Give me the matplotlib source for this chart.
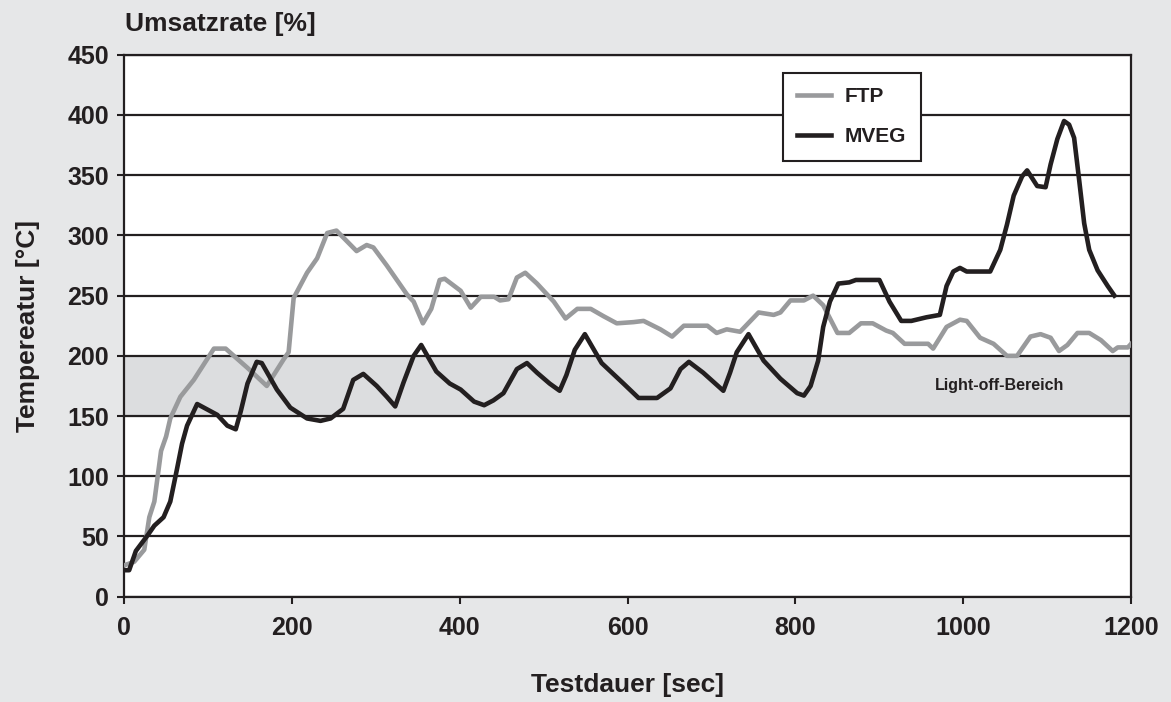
import matplotlib
matplotlib.use("Agg")
import matplotlib.pyplot as plt

plt.rcParams["font.family"] = ["Liberation Sans", "DejaVu Sans"]
plt.rcParams["font.weight"] = "bold"

# FTP cycle (grey)
ftp_t = [0, 12, 24, 30, 36, 40, 44, 50, 55, 67, 83, 107, 121, 147, 170, 190, 196,
         202, 218, 230, 242, 253, 277, 289, 297, 313, 337, 345, 356, 366, 376, 382,
         401, 413, 425, 441, 448, 458, 468, 478, 492, 512, 526, 540, 556, 571, 587,
         607, 619, 639, 653, 667, 695, 706, 718, 734, 756, 774, 782, 794, 810, 821,
         833, 850, 864, 878, 892, 908, 916, 930, 958, 964, 980, 996, 1004, 1020,
         1036, 1052, 1064, 1080, 1092, 1104, 1114, 1124, 1136, 1150, 1164, 1178,
         1184, 1196, 1200]
ftp_temp = [26, 29, 39, 66, 79, 100, 121, 133, 148, 166, 180, 206, 206, 190, 175, 197, 203,
            248, 269, 281, 302, 304, 287, 292, 290, 275, 251, 245, 227, 239, 263, 264,
            254, 240, 249, 249, 246, 247, 265, 269, 260, 245, 231, 239, 239, 233, 227,
            228, 229, 222, 216, 225, 225, 219, 222, 220, 236, 234, 236, 246, 246, 250,
            242, 219, 219, 227, 227, 221, 219, 210, 210, 206, 224, 230, 229, 215,
            210, 200, 200, 216, 218, 215, 204, 209, 219, 219, 213, 204,
            207, 207, 210]

# MVEG cycle (black)
mveg_t = [0, 6, 14, 28, 36, 47, 55, 63, 69, 75, 87, 111, 123, 133, 139, 147, 158, 164,
          182, 198, 218, 234, 246, 261, 273, 285, 301, 313, 323, 333, 345, 354, 372,
          388, 401, 417, 429, 440, 452, 468, 480, 492, 507, 519, 527, 537, 549, 569,
          595, 613, 635, 651, 663, 673, 690, 706, 714, 722, 730, 744, 762, 782, 802,
          810, 818, 827, 833, 841, 851, 864, 872, 884, 900, 912, 926, 938, 956, 972,
          980, 988, 996, 1004, 1032, 1044, 1052, 1060, 1070, 1076, 1088, 1098, 1104,
          1112, 1120, 1126, 1132, 1138, 1144, 1150, 1160, 1172, 1180]
mveg_temp = [22, 22, 38, 51, 59, 66, 79, 106, 127, 142, 160, 151, 142, 139, 154, 177, 195, 194,
             172, 157, 148, 146, 148, 156, 180, 185, 175, 166, 158, 178, 200, 209, 187,
             177, 172, 162, 159, 163, 169, 189, 194, 186, 177, 171, 184, 205, 218, 194,
             177, 165, 165, 173, 189, 195, 186, 176, 171, 186, 203, 218, 196, 181, 169,
             167, 175, 196, 224, 245, 260, 261, 263, 263, 263, 245, 229, 229, 232, 234,
             258, 270, 273, 270, 270, 288, 309, 333, 349, 354, 341, 340, 359,
             380, 395, 392, 381, 346, 310, 288, 271, 258, 250]

light_off = (150, 200)
y_ticks = list(range(0, 451, 50))
x_ticks = list(range(0, 1201, 200))

BG = "#e6e7e8"
INK = "#231f20"

fig = plt.figure(figsize=(11.71, 7.02), dpi=100, facecolor=BG)
ax = fig.add_axes([0.106, 0.150, 0.860, 0.772])
ax.set_facecolor("white")

ax.axhspan(*light_off, color="#dcdddf", zorder=0)
for y in y_ticks:
    ax.axhline(y, color=INK, lw=1.6, zorder=1)

ax.plot(ftp_t, ftp_temp, color="#999a9c", lw=3.3, label="FTP", zorder=3)
ax.plot(mveg_t, mveg_temp, color=INK, lw=3.3, label="MVEG", zorder=4)

ax.text(1043, 175, "Light-off-Bereich", fontsize=11.5, fontweight="bold",
        color=INK, ha="center", va="center")

ax.set_xlim(0, 1200)
ax.set_ylim(0, 450)
ax.set_xticks(x_ticks)
ax.set_yticks(y_ticks)
ax.tick_params(axis="both", labelsize=18, colors=INK, width=1.5, length=5, direction="out")
ax.tick_params(axis="x", pad=9)
ax.tick_params(axis="y", pad=6)
for s in ax.spines.values():
    s.set_color(INK)
    s.set_linewidth(1.6)

ax.set_xlabel("Testdauer [sec]", fontsize=19, fontweight="bold", color=INK)
ax.xaxis.set_label_coords(0.5, -0.140)
ax.set_ylabel("Tempereatur [°C]", fontsize=19, fontweight="bold", color=INK)
ax.yaxis.set_label_coords(-0.084, 0.5)
fig.text(0.107, 0.966, "Umsatzrate [%]", fontsize=19, fontweight="bold", color=INK,
         ha="left", va="center")

leg = ax.legend(loc="upper left", bbox_to_anchor=(0.654, 0.967), borderaxespad=0,
                fontsize=15, frameon=True, fancybox=False, framealpha=1,
                handlelength=1.6, borderpad=0.7, labelspacing=1.0, handletextpad=0.67)
leg.get_frame().set_edgecolor(INK)
leg.get_frame().set_linewidth(1.5)
leg.set_zorder(6)
for t in leg.get_texts():
    t.set_color(INK)

fig.savefig("out.png", dpi=100, facecolor=BG)
